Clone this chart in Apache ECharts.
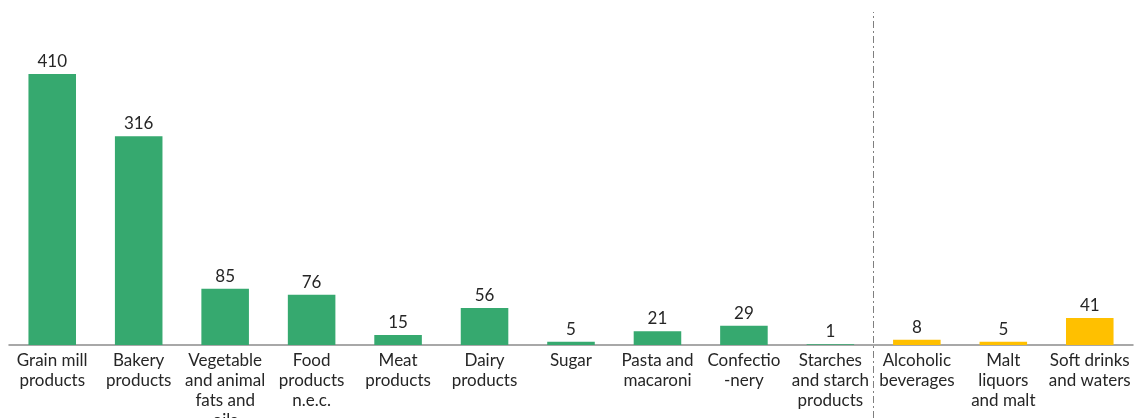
<!DOCTYPE html>
<html>
<head>
<meta charset="utf-8">
<script src="https://cdn.jsdelivr.net/npm/echarts@6/dist/echarts.min.js"></script>
<style>
  html, body { margin: 0; padding: 0; background: #fff; }
  #chart { width: 1134px; height: 418px; }
</style>
</head>
<body>
<div id="chart"></div>
<script>
// categories as printed under the axis (line breaks as in the picture)
var categories = [
    "Grain mill\nproducts", "Bakery\nproducts", "Vegetable\nand animal\nfats and\noils",
    "Food\nproducts\nn.e.c.", "Meat\nproducts", "Dairy\nproducts", "Sugar",
    "Pasta and\nmacaroni", "Confectio\n-nery", "Starches\nand starch\nproducts",
    "Alcoholic\nbeverages", "Malt\nliquors\nand malt", "Soft drinks\nand waters"
];
var values = [410, 316, 85, 76, 15, 56, 5, 21, 29, 1, 8, 5, 41];
// first 10 are food, last 3 are beverages
var food_count = 10;
var food_color = "#36A96F";
var drink_color = "#FFC000";

var bar_data = [];
for (var i = 0; i < values.length; i++) {
    bar_data.push({
        value: values[i],
        itemStyle: { color: i < food_count ? food_color : drink_color }
    });
}

var myChart = echarts.init(document.getElementById("chart"));
var option = {
    animation: false,
    grid: [
        { left: 9, right: 1, top: 12, bottom: 73, outerBoundsMode: "none" },
        // full height grid, only for the dashed divider
        { left: 9, right: 1, top: 12, bottom: 0, outerBoundsMode: "none" }
    ],
    xAxis: [{
        type: "category",
        gridIndex: 0,
        data: categories,
        axisLine: { lineStyle: { color: "#8c8c8c", width: 1.5 } },
        axisTick: { show: false },
        axisLabel: {
            interval: 0,
            color: "#262626",
            fontFamily: "Lato",
            fontSize: 17,
            lineHeight: 20,
            margin: 6
        },
        splitLine: { show: false }
    }, {
        type: "value",
        gridIndex: 1,
        min: 0,
        max: categories.length,
        show: false
    }],
    yAxis: [{
        type: "value",
        gridIndex: 0,
        min: 0,
        max: 504,
        show: false
    }, {
        type: "value",
        gridIndex: 1,
        min: 0,
        max: 1,
        show: false
    }],
    series: [{
        type: "bar",
        xAxisIndex: 0,
        yAxisIndex: 0,
        data: bar_data,
        barWidth: "55%",
        label: {
            show: true,
            position: "top",
            distance: 4,
            color: "#262626",
            fontFamily: "Lato",
            fontSize: 17
        }
    }, {
        type: "line",
        xAxisIndex: 1,
        yAxisIndex: 1,
        data: [],
        markLine: {
            silent: true,
            symbol: "none",
            label: { show: false },
            lineStyle: { color: "#7f7f7f", type: [7, 3, 2, 3], width: 1 },
            data: [{ xAxis: food_count }]
        }
    }]
};
myChart.setOption(option);
</script>
</body>
</html>
